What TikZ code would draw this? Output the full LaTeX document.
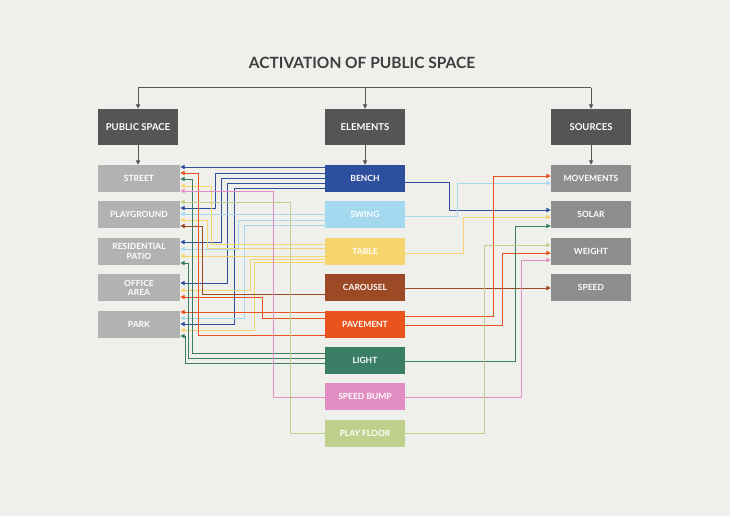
\documentclass[tikz,border=0pt]{standalone}
\usepackage{fontspec}
\setmainfont{Lato}
\usetikzlibrary{arrows.meta}
\definecolor{bgc}{HTML}{EFEFEC}
\definecolor{headc}{HTML}{555555}
\definecolor{leftc}{HTML}{B2B2B2}
\definecolor{rightc}{HTML}{8E8E8E}
\definecolor{titlec}{HTML}{3E3E3E}
\definecolor{cBench}{HTML}{2E4E9E}
\definecolor{cSwing}{HTML}{A3D8EF}
\definecolor{cTable}{HTML}{F7D56E}
\definecolor{cCarousel}{HTML}{9B4A25}
\definecolor{cPavement}{HTML}{E8531E}
\definecolor{cLight}{HTML}{3A7F65}
\definecolor{cBump}{HTML}{E38EC2}
\definecolor{cFloor}{HTML}{BFD08C}
\newcommand\myLR[6]{\draw[#1,arr] (#2.west |- 0,#3) -| (#4,#6) -- (#5.east |- 0,#6);}
\newcommand\myLS[4]{\draw[#1,arr] (#2.west |- 0,#3) -- (#4.east |- 0,#3);}
\newcommand\myRR[6]{\draw[#1,arr] (#2.east |- 0,#3) -| (#4,#6) -- (#5.west |- 0,#6);}
\newcommand\myRS[4]{\draw[#1,arr] (#2.east |- 0,#3) -- (#4.west |- 0,#3);}
\begin{document}
\begin{tikzpicture}[x=1pt,y=-1pt,
  arr/.style={line width=0.9pt,-{Triangle[length=4.5pt,width=4.2pt]}},
  box/.style={minimum height=27pt,inner sep=0pt,text=white,align=center,
    font=\bfseries\fontsize{8.5}{9.5}\selectfont},
  lbox/.style={box,fill=leftc,minimum width=82pt},
  mbox/.style={box,minimum width=80pt},
  rbox/.style={box,fill=rightc,minimum width=80pt},
  head/.style={fill=headc,minimum width=80pt,minimum height=36pt,inner sep=0pt,
    text=white,font=\bfseries\fontsize{9.5}{11}\selectfont},
  hline/.style={draw=headc,line width=1pt}]
\fill[bgc] (0,0) rectangle (730,516);
\useasboundingbox (0,0) rectangle (730,516);

\node[font=\bfseries\fontsize{15.5}{18}\selectfont,text=titlec] (title) at (362,63) {ACTIVATION OF PUBLIC SPACE};

\node[head] (hps) at (138,127) {PUBLIC SPACE};
\node[head] (hel) at (365,127) {ELEMENTS};
\node[head] (hso) at (591,127) {SOURCES};

% left column
\node[lbox] (street) at (139,178.5) {STREET};
\node[lbox] (play) at (139,214.9) {PLAYGROUND};
\node[lbox] (resid) at (139,251.3) {RESIDENTIAL\\PATIO};
\node[lbox] (office) at (139,287.7) {OFFICE\\AREA};
\node[lbox] (park) at (139,324.1) {PARK};

% middle column
\node[mbox,fill=cBench] (bench) at (365,178.5) {BENCH};
\node[mbox,fill=cSwing] (swing) at (365,214.9) {SWING};
\node[mbox,fill=cTable] (table) at (365,251.3) {TABLE};
\node[mbox,fill=cCarousel] (carousel) at (365,287.7) {CAROUSEL};
\node[mbox,fill=cPavement] (pavement) at (365,324.1) {PAVEMENT};
\node[mbox,fill=cLight] (light) at (365,360.5) {LIGHT};
\node[mbox,fill=cBump] (bump) at (365,396.9) {SPEED BUMP};
\node[mbox,fill=cFloor] (floor) at (365,433.3) {PLAY FLOOR};

% right column
\node[rbox] (move) at (591,178.5) {MOVEMENTS};
\node[rbox] (solar) at (591,214.9) {SOLAR};
\node[rbox] (weight) at (591,251.3) {WEIGHT};
\node[rbox] (speed) at (591,287.7) {SPEED};

% top bus
\coordinate (busL) at (138,88);
\coordinate (busC) at (365,88);
\coordinate (busR) at (591,88);
\draw[hline] (busL) -- (busR);
\draw[hline,arr,draw=headc] (busL) -- (hps.north);
\draw[hline,arr,draw=headc] (busC) -- (hel.north);
\draw[hline,arr,draw=headc] (busR) -- (hso.north);
\draw[hline,arr,draw=headc] (hps.south) -- (hps.south |- street.north);
\draw[hline,arr,draw=headc] (hel.south) -- (bench.north);
\draw[hline,arr,draw=headc] (hso.south) -- (move.north);

% left connections
\myLS{cBench}{bench}{167}{street}
\myLR{cBench}{bench}{173}{215}{play}{208}
\myLR{cBench}{bench}{178}{221}{resid}{242}
\myLR{cBench}{bench}{183}{227}{office}{283}
\myLR{cBench}{bench}{188}{234}{park}{324}
\myLS{cSwing}{swing}{214}{play}
\myLR{cSwing}{swing}{220}{238}{resid}{249}
\myLR{cSwing}{swing}{225}{244}{park}{318}
\myLR{cTable}{table}{244}{211}{street}{186}
\myLR{cTable}{table}{248}{207}{play}{220}
\myLS{cTable}{table}{256}{resid}
\myLR{cTable}{table}{259}{250}{office}{290}
\myLR{cTable}{table}{262}{254}{park}{330}
\myLR{cCarousel}{carousel}{294}{202}{play}{226}
\myLS{cPavement}{pavement}{312}{park}
\myLR{cPavement}{pavement}{318}{262}{office}{297}
\myLR{cPavement}{pavement}{335}{198}{street}{173}
\myLR{cLight}{light}{353}{192}{street}{179}
\myLR{cLight}{light}{358}{188}{resid}{263}
\myLR{cLight}{light}{363}{185}{park}{336}
\myLR{cBump}{bump}{397}{273}{street}{191}
\myLR{cFloor}{floor}{433}{290}{play}{202}

% right connections
\myRR{cBench}{bench}{182}{449}{solar}{210}
\myRR{cSwing}{swing}{216}{457}{move}{183}
\myRR{cTable}{table}{253}{463}{solar}{217}
\myRS{cCarousel}{carousel}{288}{speed}
\myRR{cPavement}{pavement}{316}{493}{move}{176}
\myRR{cPavement}{pavement}{325}{502}{weight}{253}
\myRR{cLight}{light}{361}{515}{solar}{226}
\myRR{cBump}{bump}{397}{521}{weight}{260}
\myRR{cFloor}{floor}{433}{484}{weight}{245}
\end{tikzpicture}
\end{document}
